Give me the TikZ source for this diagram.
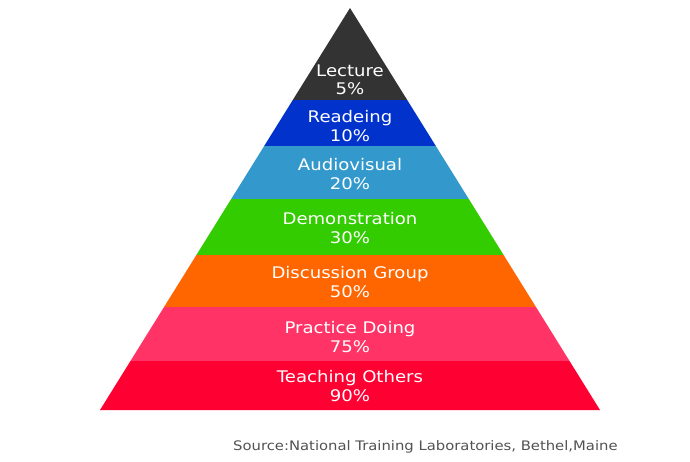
\documentclass[tikz,border=0pt]{standalone}
\usepackage{fontspec}
\setmainfont{DejaVu Sans}
\newfontfamily\widefont[FakeStretch=1.13]{DejaVu Sans}
\begin{document}
\begin{tikzpicture}[x=1pt,y=-1pt,
  lbl/.style={text=white,align=center,font=\widefont\fontsize{16}{18.5}\selectfont,inner sep=0pt},
  src/.style={text=black!68,font=\widefont\fontsize{13.1}{15}\selectfont,inner sep=0pt,anchor=west}]
\useasboundingbox[fill=white] (0,0) rectangle (690,461);
\begin{scope}
\clip (350,8) -- (100,410) -- (600,410) -- cycle;
\fill[fill={rgb,255:red,51;green,51;blue,51}] (90,0) rectangle (610,100);
\fill[fill={rgb,255:red,2;green,50;blue,204}] (90,100) rectangle (610,146);
\fill[fill={rgb,255:red,51;green,153;blue,204}] (90,146) rectangle (610,199);
\fill[fill={rgb,255:red,51;green,204;blue,0}] (90,199) rectangle (610,255);
\fill[fill={rgb,255:red,255;green,102;blue,0}] (90,255) rectangle (610,307);
\fill[fill={rgb,255:red,255;green,51;blue,102}] (90,307) rectangle (610,361);
\fill[fill={rgb,255:red,255;green,0;blue,51}] (90,361) rectangle (610,411);
\end{scope}
\node[lbl] (lecture) at (350,80) {Lecture\\5\%};
\node[lbl] (reading) at (350,126) {Readeing\\10\%};
\node[lbl] (audio) at (350,174) {Audiovisual\\20\%};
\node[lbl] (demo) at (350,228) {Demonstration\\30\%};
\node[lbl] (disc) at (350,282) {Discussion Group\\50\%};
\node[lbl] (prac) at (350,337) {Practice Doing\\75\%};
\node[lbl] (teach) at (350,386) {Teaching Others\\90\%};
\node[src] (source) at (233,447) {Source:National Training Laboratories, Bethel,Maine};
\end{tikzpicture}
\end{document}
